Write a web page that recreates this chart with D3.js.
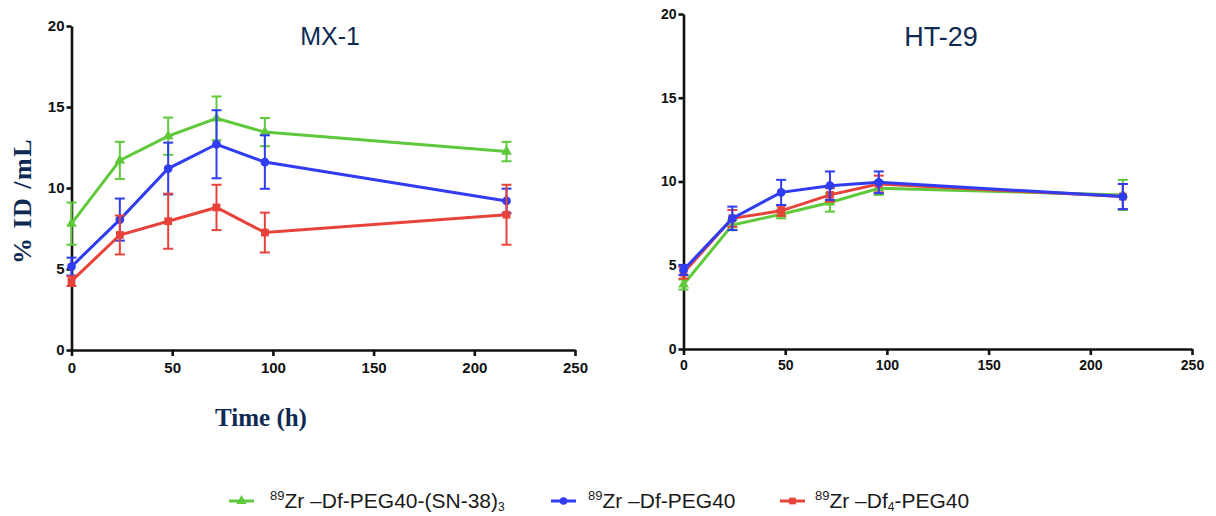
<!DOCTYPE html>
<html>
<head>
<meta charset="utf-8">
<script src="https://cdn.jsdelivr.net/npm/d3@7"></script>
<style>
  body { margin: 0; background: #fff; }
  svg text { font-family: Arial, "Liberation Sans", sans-serif; }
</style>
</head>
<body>
<div id="Canvas"></div>
<script>
// 時間點 (h)
const times = [0, 24, 48, 72, 96, 216]
const xTicks = [0, 50, 100, 150, 200, 250]
const yTicks = [0, 5, 10, 15, 20]

// MX-1 資料
const mx1_green = [7.8, 11.7, 13.2, 14.3, 13.45, 12.25]
const mx1_green_err = [1.3, 1.15, 1.15, 1.35, 0.87, 0.6]
const mx1_blue = [5.15, 8.05, 11.2, 12.7, 11.6, 9.2]
const mx1_blue_err = [0.55, 1.3, 1.6, 2.1, 1.65, 0.76]
const mx1_red = [4.25, 7.1, 7.95, 8.8, 7.25, 8.35]
const mx1_red_err = [0.3, 1.2, 1.7, 1.4, 1.23, 1.85]

// HT-29 資料
const ht29_green = [3.85, 7.4, 8.05, 8.75, 9.6, 9.2]
const ht29_green_err = [0.3, 0.3, 0.25, 0.55, 0.4, 0.9]
const ht29_red = [4.55, 7.8, 8.25, 9.2, 9.85, 9.1]
const ht29_red_err = [0.35, 0.5, 0.3, 0.4, 0.5, 0.75]
const ht29_blue = [4.72, 7.8, 9.35, 9.75, 9.95, 9.1]
const ht29_blue_err = [0.3, 0.7, 0.75, 0.85, 0.65, 0.75]

const GREEN = "#5fc93b", BLUE = "#2f3cf2", RED = "#e8433b"
const NAVY = "#0e2a52"

let svg = d3.select("#Canvas")
    .append("svg")
    .attr("width", 1216)
    .attr("height", 516)

function drawPanel(opt){
    let xScale = d3.scaleLinear().domain([0, 250]).range(opt.xr)
    let yScale = d3.scaleLinear().domain([0, 20]).range(opt.yr)
    let g = svg.append("g")

    // 軸
    let xa = g.append("g")
        .attr("transform", `translate(0,${opt.yr[0]})`)
        .call(d3.axisBottom(xScale).tickValues(xTicks).tickSize(6).tickSizeOuter(0).tickPadding(opt.xPad))
    let ya = g.append("g")
        .attr("transform", `translate(${opt.xr[0]},0)`)
        .call(d3.axisLeft(yScale).tickValues(yTicks).tickSize(5).tickSizeOuter(0).tickPadding(2))
    ;[xa, ya].forEach(a=>{
        a.attr("font-size", null)
        a.selectAll("path,line").attr("stroke", "#111").attr("stroke-width", 2.6)
        a.selectAll("text").attr("fill", "#111")
            .style("font-weight", "bold").style("font-size", opt.tickFont + "px")
    })

    // 標題
    g.append("text")
        .attr("x", opt.titleX).attr("y", opt.titleY)
        .attr("text-anchor", "middle")
        .attr("fill", NAVY)
        .style("font-size", opt.titleSize + "px")
        .text(opt.title)

    opt.series.forEach(s=>{
        let pts = times.map((t, i)=>({t: t, v: s.vals[i], e: s.errs[i]}))
        let sg = g.append("g")
        // 誤差線
        pts.forEach(p=>{
            let x = xScale(p.t), y1 = yScale(p.v + p.e), y2 = yScale(p.v - p.e)
            sg.append("line").attr("x1", x).attr("x2", x).attr("y1", y1).attr("y2", y2)
                .attr("stroke", s.color).attr("stroke-width", 2)
            ;[y1, y2].forEach(yy=>{
                sg.append("line").attr("x1", x - 5).attr("x2", x + 5).attr("y1", yy).attr("y2", yy)
                    .attr("stroke", s.color).attr("stroke-width", 2)
            })
        })
        sg.append("path")
            .datum(pts)
            .attr("fill", "none")
            .attr("stroke", s.color)
            .attr("stroke-width", 3)
            .attr("d", d3.line().x(d=>xScale(d.t)).y(d=>yScale(d.v)))
        sg.selectAll("path.mk")
            .data(pts)
            .enter()
            .append("path")
            .attr("class", "mk")
            .attr("transform", d=>`translate(${xScale(d.t)},${yScale(d.v)})`)
            .attr("d", d3.symbol().type(s.symbol).size(s.size))
            .attr("fill", s.color)
    })
}

drawPanel({
    xr: [71.5, 575], yr: [350, 26],
    title: "MX-1", titleX: 330, titleY: 45, titleSize: 25, tickFont: 15, xPad: 6,
    series: [
        {vals: mx1_green, errs: mx1_green_err, color: GREEN, symbol: d3.symbolTriangle, size: 50},
        {vals: mx1_blue, errs: mx1_blue_err, color: BLUE, symbol: d3.symbolCircle, size: 60},
        {vals: mx1_red, errs: mx1_red_err, color: RED, symbol: d3.symbolSquare, size: 60}
    ]
})
drawPanel({
    xr: [683.5, 1192], yr: [349, 14],
    title: "HT-29", titleX: 941, titleY: 46, titleSize: 27, tickFont: 14, xPad: 5,
    series: [
        {vals: ht29_green, errs: ht29_green_err, color: GREEN, symbol: d3.symbolTriangle, size: 50},
        {vals: ht29_red, errs: ht29_red_err, color: RED, symbol: d3.symbolSquare, size: 60},
        {vals: ht29_blue, errs: ht29_blue_err, color: BLUE, symbol: d3.symbolCircle, size: 60}
    ]
})

// 軸標題
svg.append("text")
    .attr("transform", "translate(31,201) rotate(-90)")
    .attr("text-anchor", "middle")
    .attr("fill", NAVY)
    .style("font-family", "'Liberation Serif', 'DejaVu Serif', serif")
    .style("font-weight", "bold")
    .style("font-size", "26px")
    .style("letter-spacing", "1.5px")
    .text("% ID /mL")
svg.append("text")
    .attr("x", 261).attr("y", 426)
    .attr("text-anchor", "middle")
    .attr("fill", NAVY)
    .style("font-family", "'Liberation Serif', 'DejaVu Serif', serif")
    .style("font-weight", "bold")
    .style("font-size", "25px")
    .text("Time (h)")

// 圖例
const legendItems = [
    {color: GREEN, symbol: d3.symbolTriangle, x: 229, tx: 270, main: " –Df-PEG40-(SN-38)", sub: "3", tail: ""},
    {color: BLUE, symbol: d3.symbolCircle, x: 551, tx: 588, main: " –Df-PEG40", sub: "", tail: ""},
    {color: RED, symbol: d3.symbolSquare, x: 780, tx: 815, main: " –Df", sub: "4", tail: "-PEG40"}
]
let lg = svg.append("g")
legendItems.forEach(d=>{
    let ly = 501
    lg.append("line").attr("x1", d.x).attr("x2", d.x + 25).attr("y1", ly).attr("y2", ly)
        .attr("stroke", d.color).attr("stroke-width", 3)
    lg.append("path").attr("transform", `translate(${d.x + 12.5},${ly})`)
        .attr("d", d3.symbol().type(d.symbol).size(45)).attr("fill", d.color)
    let t = lg.append("text").attr("x", d.tx).attr("y", 508)
        .attr("fill", "#1a1a1a").style("font-size", "21px")
    t.append("tspan").attr("dy", -8).style("font-size", "13px").text("89")
    t.append("tspan").attr("dy", 8).text("Zr" + d.main)
    if(d.sub){
        t.append("tspan").attr("dy", 3).style("font-size", "12px").text(d.sub)
        if(d.tail) t.append("tspan").attr("dy", -3).text(d.tail)
    }
})
</script>
</body>
</html>
